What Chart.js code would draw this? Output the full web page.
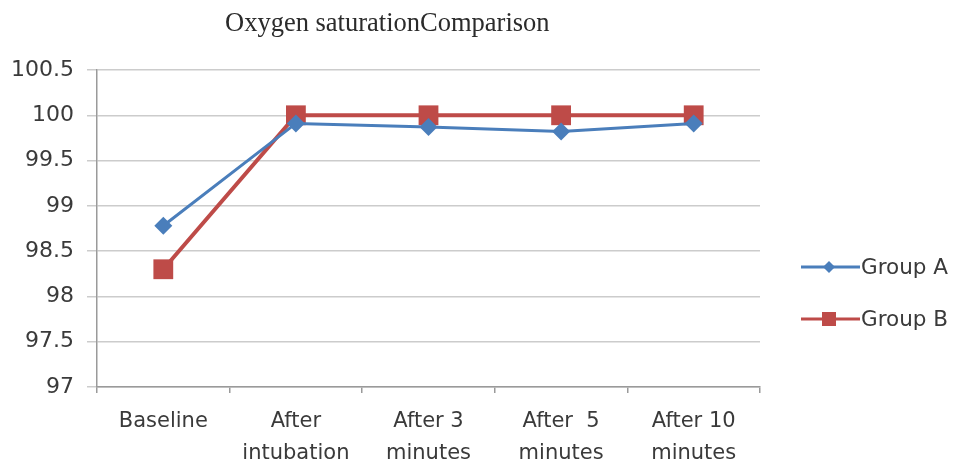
<!DOCTYPE html>
<html>
<head>
<meta charset="utf-8">
<script src="https://cdn.jsdelivr.net/npm/chart.js@4/dist/chart.umd.min.js"></script>
<style>
  html, body { margin: 0; padding: 0; background: #ffffff; }
  #wrap { width: 957px; height: 470px; }
</style>
</head>
<body>
<div id="wrap"><canvas id="c" width="957" height="470"></canvas></div>
<script>
// Measurement points along the x axis
const categories = ['Baseline', ['After', 'intubation'], ['After 3', 'minutes'], ['After  5', 'minutes'], ['After 10', 'minutes']];
// Oxygen saturation (%) per group
const groupA = [98.78, 99.91, 99.87, 99.82, 99.91];
const groupB = [98.3, 100, 100, 100, 100];
const seriesNames = ['Group A', 'Group B'];
const chartTitle = 'Oxygen saturationComparison';
const yMin = 97, yMax = 100.5, yStep = 0.5;

const BLUE = '#4a7ebb';
const RED = '#be4b48';
const TEXT = '#3a3a3a';
const GRID = '#cccccc';
const AXIS = '#9a9a9a';
const SANS = '"DejaVu Sans", sans-serif';

// Title drawn at a fixed spot above the plot
const titlePlugin = {
  id: 'plainTitle',
  afterDraw(chart) {
    const ctx = chart.ctx;
    ctx.save();
    ctx.fillStyle = '#2b2b2b';
    ctx.font = '26.5px "Liberation Serif", serif';
    ctx.textAlign = 'left';
    ctx.textBaseline = 'alphabetic';
    ctx.fillText(chartTitle, 225, 31);
    ctx.restore();
  }
};

// Legend on the right: line with marker, then series name
const sideLegend = {
  id: 'sideLegend',
  afterDraw(chart) {
    const ctx = chart.ctx;
    const rows = [267, 319];
    chart.data.datasets.forEach((ds, i) => {
      const y = rows[i];
      const x0 = 801, x1 = 860, xm = 829;
      ctx.save();
      ctx.strokeStyle = ds.borderColor;
      ctx.lineWidth = 3;
      ctx.beginPath();
      ctx.moveTo(x0, y);
      ctx.lineTo(x1, y);
      ctx.stroke();
      ctx.fillStyle = ds.backgroundColor;
      ctx.beginPath();
      if (ds.pointStyle === 'rectRot') {
        const r = 6;
        ctx.moveTo(xm, y - r); ctx.lineTo(xm + r, y); ctx.lineTo(xm, y + r); ctx.lineTo(xm - r, y);
        ctx.closePath();
      } else {
        const h = 7;
        ctx.rect(xm - h, y - h, 2 * h, 2 * h);
      }
      ctx.fill();
      ctx.fillStyle = TEXT;
      ctx.font = '21.5px ' + SANS;
      ctx.textAlign = 'left';
      ctx.textBaseline = 'middle';
      ctx.fillText(ds.label, 861, y + 1);
      ctx.restore();
    });
  }
};

new Chart(document.getElementById('c'), {
  type: 'line',
  data: {
    labels: categories,
    datasets: [
      {
        label: seriesNames[0],
        data: groupA,
        borderColor: BLUE,
        backgroundColor: BLUE,
        borderWidth: 3,
        pointStyle: 'rectRot',
        pointRadius: 9,
        pointBorderWidth: 0,
        tension: 0
      },
      {
        label: seriesNames[1],
        data: groupB,
        borderColor: RED,
        backgroundColor: RED,
        borderWidth: 4,
        pointStyle: 'rect',
        pointRadius: 14,
        pointBorderWidth: 0,
        tension: 0
      }
    ]
  },
  options: {
    responsive: false,
    animation: false,
    devicePixelRatio: 1,
    layout: { padding: { top: 70, right: 197, left: 0, bottom: 0 } },
    plugins: {
      legend: { display: false },
      title: { display: false },
      tooltip: { enabled: false }
    },
    scales: {
      x: {
        type: 'category',
        offset: true,
        grid: {
          offset: true,
          drawOnChartArea: false,
          drawTicks: true,
          tickLength: 6,
          color: AXIS,
          lineWidth: 1.5
        },
        border: { color: AXIS, width: 1.5 },
        ticks: {
          color: TEXT,
          font: { family: SANS, size: 21, lineHeight: 1.5 },
          padding: 13,
          maxRotation: 0,
          autoSkip: false
        },
        afterFit(scale) { scale.height = 83; }
      },
      y: {
        min: yMin,
        max: yMax,
        grid: {
          color: GRID,
          lineWidth: 1.5,
          tickLength: 10
        },
        border: { color: AXIS, width: 1.5 },
        ticks: {
          stepSize: yStep,
          color: TEXT,
          font: { family: SANS, size: 22 },
          padding: 13,
          callback: v => String(v)
        },
        afterFit(scale) { scale.width = 97; }
      }
    }
  },
  plugins: [titlePlugin, sideLegend]
});
</script>
</body>
</html>
